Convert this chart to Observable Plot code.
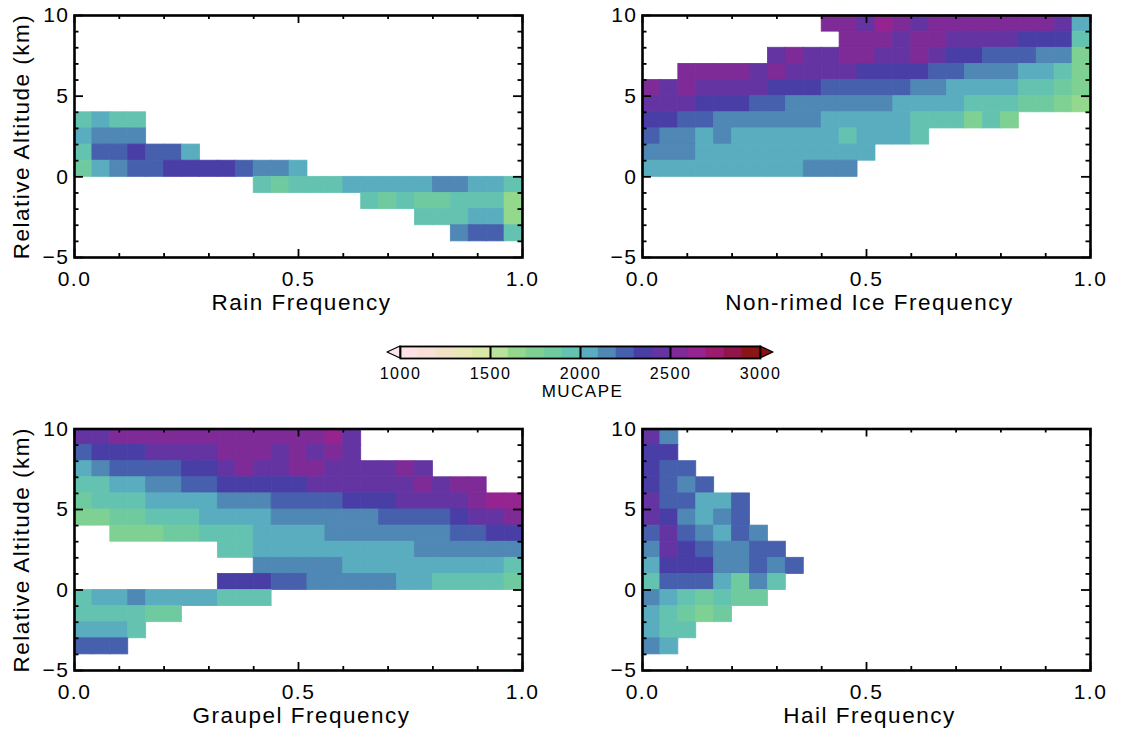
<!DOCTYPE html>
<html><head><meta charset="utf-8">
<script src="https://cdn.jsdelivr.net/npm/d3@7"></script>
<script src="https://cdn.jsdelivr.net/npm/@observablehq/plot@0.6"></script>
<style>
body{margin:0;background:#fff}
#wrap{position:relative;width:1121px;height:736px;overflow:hidden;background:#fff}
#wrap > div{position:absolute}
#wrap svg{max-width:none !important}
</style></head><body><div id="wrap"></div>
<script>
// ---- colour scale (MUCAPE, J/kg) ----
const capeThresholds = [1100,1200,1300,1400,1500,1600,1700,1800,1900,2000,2100,2200,2300,2400,2500,2600,2700,2800,2900];
const capeColors = ["#fde1e4","#f8e0d6","#f1e2c7","#e9e7b5","#dae8a6","#b9e29c","#93d88c","#7ed192","#70caa0","#64c3b0",
                    "#59adbf","#4f87b5","#4660ae","#493ea6","#6534a3","#7e2a97","#952390","#9c1b6f","#8f154b","#8a1515"];
const capeMin = 1000, capeMax = 3000;
const capeTicks = [1000,1500,2000,2500,3000];
const capeMajorDividers = [1500,2000,2500];

// ---- axes ----
const freqBinCount = 25;
const xTickMajor = [0, 0.5, 1];
const xTickMinor = [0.1,0.2,0.3,0.4,0.6,0.7,0.8,0.9];
const yTickMajor = [-5,0,5,10];
const yTickMinor = [-4,-3,-2,-1,1,2,3,4,6,7,8,9];

// ---- Rain ----
const rainAlt = [3,2,1,0,-1,-2,-3,-4];
const rainStart = [0,0,0,0,10,16,19,21];
const rainCape = [
  [1950,2050,1950,1950],
  [2050,2150,2150,2150],
  [1950,2250,2250,2350,2250,2250,2050],
  [1850,2050,2150,2250,2250,2350,2350,2350,2350,2250,2150,2150,2050],
  [1950,1850,1950,1950,1950,2050,2050,2050,2050,2050,2150,2150,2050,2050,1950],
  [1950,1850,1950,1850,1850,1950,1950,1950,1650],
  [1950,1950,1950,2050,2050,1650],
  [2150,2250,2250,1950]
];

// ---- Non-rimed ice ----
const iceAlt = [9,8,7,6,5,4,3,2,1,0];
const iceStart = [10,11,7,2,0,0,0,0,0,0];
const iceCape = [
  [2550,2550,2450,2650,2550,2450,2550,2550,2550,2550,2550,2550,2550,2450,2050],
  [2550,2550,2550,2450,2550,2550,2450,2450,2450,2450,2350,2350,2350,1950],
  [2450,2550,2450,2450,2550,2550,2450,2450,2550,2450,2350,2350,2250,2250,2250,2150,2150,1750],
  [2550,2550,2550,2550,2450,2550,2450,2450,2450,2450,2350,2350,2350,2350,2250,2250,2150,2150,2150,2050,2050,1950,1750],
  [2550,2450,2550,2450,2450,2450,2450,2350,2350,2350,2250,2250,2250,2250,2250,2150,2150,2050,2050,2050,2050,1950,1950,1850,1750],
  [2450,2450,2450,2350,2350,2350,2250,2250,2150,2150,2150,2150,2150,2150,2050,2050,2050,2050,1950,1950,1950,1850,1850,1750,1650],
  [2350,2350,2250,2250,2150,2150,2150,2150,2150,2150,2050,2050,2050,2050,2050,1950,1950,1950,1750,1950,1750],
  [2250,2150,2150,2050,2150,2050,2050,2050,2050,2050,2050,1950,2050,2050,2050,1950],
  [2150,2150,2150,2050,2050,2050,2050,2050,2050,2050,2050,2050,2050],
  [2050,2050,2050,2050,2050,2050,2050,2050,2050,2150,2150,2150]
];

// ---- Graupel ----
const graupelAlt = [9,8,7,6,5,4,3,2,1,0,-1,-2,-3,-4];
const graupelStart = [0,0,0,0,0,0,2,8,10,8,0,0,0,0];
const graupelCape = [
  [2450,2450,2550,2550,2550,2550,2550,2550,2550,2550,2550,2550,2550,2550,2650,2450],
  [2250,2350,2350,2350,2450,2450,2450,2450,2550,2550,2550,2450,2550,2450,2550,2450],
  [2050,2150,2250,2250,2250,2250,2350,2350,2450,2550,2450,2450,2550,2550,2450,2450,2450,2450,2550,2450],
  [1950,1950,2050,2050,2150,2150,2250,2250,2350,2350,2350,2350,2350,2450,2450,2450,2450,2450,2450,2550,2450,2550,2550],
  [1850,1950,1950,1950,2050,2050,2050,2050,2150,2150,2150,2250,2250,2250,2250,2350,2350,2350,2450,2450,2450,2450,2550,2650,2650],
  [1750,1750,1850,1850,1950,1950,1950,2050,2050,2050,2050,2150,2150,2150,2150,2150,2150,2250,2250,2250,2250,2350,2450,2450,2550],
  [1750,1750,1750,1850,1850,1950,1950,1950,2050,2050,2050,2050,2150,2150,2150,2150,2150,2150,2150,2250,2250,2350,2350],
  [1950,1950,2050,2050,2050,2050,2050,2050,2050,2050,2050,2150,2150,2150,2150,2150,2150],
  [2150,2150,2150,2150,2150,2050,2050,2050,2050,2050,2050,2050,2050,2050,1950],
  [2350,2350,2350,2250,2250,2150,2150,2150,2150,2150,2050,2050,1950,1950,1950,1950,1850],
  [1950,2050,2050,2150,2050,2050,2050,2050,1950,1950,1950],
  [1950,1950,1950,1950,1850,1850],
  [2050,2050,2050,1950],
  [2250,2250,2250]
];

// ---- Hail ----
const hailAlt = [9,8,7,6,5,4,3,2,1,0,-1,-2,-3,-4];
const hailStart = [0,0,0,0,0,0,0,0,0,0,0,0,0,0];
const hailCape = [
  [2450,2150],
  [2350,2350],
  [2350,2250,2250],
  [2350,2250,2150,2250],
  [2450,2250,2250,2050,2050,2250],
  [2450,2350,2150,2050,2150,2250],
  [2250,2450,2250,2150,2050,2250,2150],
  [2150,2450,2350,2250,2150,2150,2250,2250],
  [2050,2350,2350,2350,2150,2150,2250,2150,2250],
  [1950,2250,2250,2250,2050,1850,2150,1950],
  [2150,2050,1950,1850,1950,1850,1850],
  [2050,1950,1850,1750,1850],
  [2050,1950,1950],
  [2150,2050]
];

const FONT = "'Liberation Sans', Arial, Helvetica, sans-serif";
const colorScale = {type: "threshold", domain: capeThresholds, range: capeColors};

function cells(alt, start, cape) {
  const out = [];
  alt.forEach((a, r) => cape[r].forEach((v, i) => {
    if (v == null) return;
    const k = start[r] + i;
    out.push({x1: k / freqBinCount, x2: (k + 1) / freqBinCount, y1: a, y2: a + 1, cape: v});
  }));
  return out;
}

function place(svg, left, top, width) {
  const div = document.createElement("div");
  div.style.left = left + "px"; div.style.top = top + "px"; div.style.width = width + "px";
  svg.style.maxWidth = "none";
  div.appendChild(svg);
  document.getElementById("wrap").appendChild(div);
}

function makePanel(p) {
  const W = 545, ml = 74, mr = 23;
  const fw = W - ml - mr, fh = p.height - p.mt - p.mb;
  const tk = {stroke: "black", strokeWidth: 1.8};
  const marks = [
    Plot.rect(cells(p.alt, p.start, p.cape), {x1: "x1", x2: "x2", y1: "y1", y2: "y2", fill: "cape", stroke: "cape", strokeWidth: 0.8}),
    Plot.tickX(xTickMinor, {x: d => d, insetTop: fh - 4, ...tk}),
    Plot.tickX(xTickMinor, {x: d => d, insetBottom: fh - 4, ...tk}),
    Plot.tickX(xTickMajor, {x: d => d, insetTop: fh - 8, ...tk}),
    Plot.tickX(xTickMajor, {x: d => d, insetBottom: fh - 8, ...tk}),
    Plot.tickY(yTickMinor, {y: d => d, insetRight: fw - 4.5, ...tk}),
    Plot.tickY(yTickMinor, {y: d => d, insetLeft: fw - 4.5, ...tk}),
    Plot.tickY(yTickMajor, {y: d => d, insetRight: fw - 9, ...tk}),
    Plot.tickY(yTickMajor, {y: d => d, insetLeft: fw - 9, ...tk}),
    Plot.frame({stroke: "black", strokeWidth: 2.6}),
    Plot.text(xTickMajor, {x: d => d, text: d => d.toFixed(1), frameAnchor: "bottom", lineAnchor: "middle", textAnchor: "middle", dy: 22, fontSize: 21}),
    Plot.text(yTickMajor, {y: d => d, text: d => String(d).replace("-", "\u2212"), frameAnchor: "left", lineAnchor: "middle", dx: -5, textAnchor: "end", fontSize: 21}),
    Plot.text([p.xLabel], {text: d => d, frameAnchor: "bottom", lineAnchor: "middle", textAnchor: "middle", dy: 45, dx: 3, fontSize: 22.5})
  ];
  if (p.yLabel) marks.push(Plot.text([p.yLabel], {text: d => d, frameAnchor: "left", lineAnchor: "middle", textAnchor: "middle", dx: -53, rotate: -90, fontSize: 22.5}));
  const svg = Plot.plot({
    width: W, height: p.height, marginLeft: ml, marginRight: mr, marginTop: p.mt, marginBottom: p.mb,
    x: {domain: [0, 1], axis: null}, y: {domain: [-5, 10], axis: null},
    color: colorScale,
    style: {fontFamily: FONT, letterSpacing: "1.5px", color: "black", background: "transparent", overflow: "visible"},
    marks
  });
  place(svg, p.left, p.top, W);
}

makePanel({alt: rainAlt, start: rainStart, cape: rainCape, xLabel: "Rain Frequency", yLabel: "Relative Altitude (km)", left: 0, top: 0, height: 330, mt: 15, mb: 73});
makePanel({alt: iceAlt, start: iceStart, cape: iceCape, xLabel: "Non-rimed Ice Frequency", yLabel: null, left: 568, top: 0, height: 330, mt: 15, mb: 73});
makePanel({alt: graupelAlt, start: graupelStart, cape: graupelCape, xLabel: "Graupel Frequency", yLabel: "Relative Altitude (km)", left: 0, top: 414, height: 322, mt: 14.5, mb: 66});
makePanel({alt: hailAlt, start: hailStart, cape: hailCape, xLabel: "Hail Frequency", yLabel: null, left: 568, top: 414, height: 322, mt: 14.5, mb: 66});

// ---- colour bar ----
(function () {
  const edges = [capeMin, ...capeThresholds, capeMax];
  const bins = edges.slice(0, -1).map((lo, i) => ({lo, hi: edges[i + 1]}));
  const ext = 72; // triangle length in MUCAPE units (layout)
  const lowTri = [{x: capeMin - ext, y1: 0.5, y2: 0.5}, {x: capeMin, y1: 0, y2: 1}];
  const highTri = [{x: capeMax, y1: 0, y2: 1}, {x: capeMax + ext, y1: 0.5, y2: 0.5}];
  const svg = Plot.plot({
    width: 480, height: 66, marginLeft: 60, marginRight: 60, marginTop: 8, marginBottom: 46,
    x: {domain: [capeMin, capeMax], axis: null}, y: {domain: [0, 1], axis: null},
    color: colorScale,
    style: {fontFamily: FONT, letterSpacing: "1.5px", color: "black", background: "transparent", overflow: "visible"},
    marks: [
      Plot.rect(bins, {x1: "lo", x2: "hi", y1: 0, y2: 1, fill: d => (d.lo + d.hi) / 2, stroke: d => (d.lo + d.hi) / 2, strokeWidth: 0.5}),
      Plot.area(lowTri, {x1: "x", y1: "y1", y2: "y2", fill: "#fde6ea", stroke: "black", strokeWidth: 1.3}),
      Plot.area(highTri, {x1: "x", y1: "y1", y2: "y2", fill: "#8b1010", stroke: "black", strokeWidth: 1.3}),
      Plot.ruleX(capeMajorDividers, {stroke: "black", strokeWidth: 2}),
      Plot.frame({stroke: "black", strokeWidth: 1.8}),
      Plot.text(capeTicks, {x: d => d, text: d => String(d), frameAnchor: "bottom", lineAnchor: "middle", textAnchor: "middle", dy: 15.5, fontSize: 16}),
      Plot.text(["MUCAPE"], {text: d => d, frameAnchor: "bottom", lineAnchor: "middle", textAnchor: "middle", dy: 33, dx: 2, fontSize: 17})
    ]
  });
  place(svg, 340, 338, 480);
})();
</script></body></html>
